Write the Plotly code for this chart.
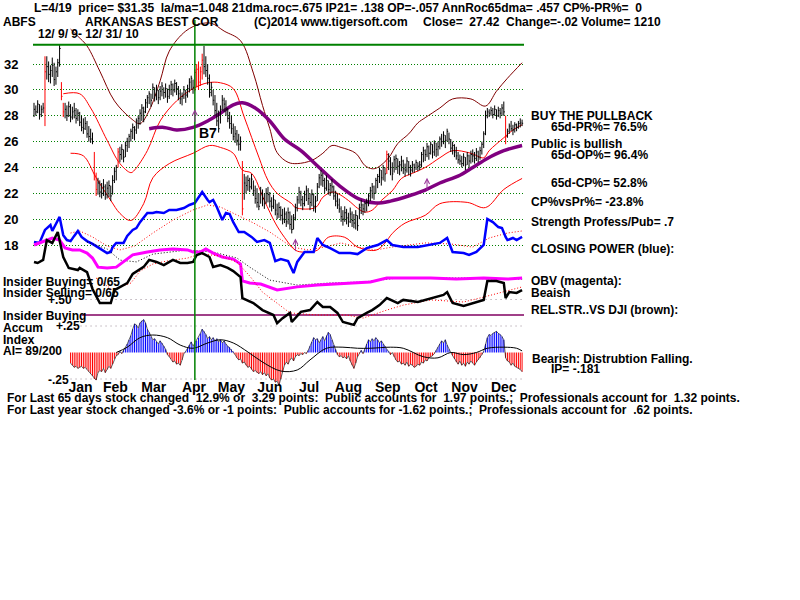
import plotly.graph_objects as go

W, H = 800, 600

# ---------------------------------------------------------------- calendar
month_names = ["Jan", "Feb", "Mar", "Apr", "May", "Jun",
               "Jul", "Aug", "Sep", "Oct", "Nov", "Dec"]
month_first_day = [16, 35, 54, 77, 98, 118, 140, 161, 183, 204, 225, 246]
n_days = 268                       # 12/9/2009 .. 12/31/2010

# ---------------------------------------------------------------- daily prices
high = [29.0, 28.8, 29.2, 28.9, 28.8, 29.0, 32.6, 32.6, 32.2, 31.9,
        32.5, 32.1, 31.8, 32.4, 33.5, 30.6, 29.0, 29.0, 28.8, 29.1,
        28.9, 28.7, 29.0, 28.6, 28.5, 28.3, 28.0, 27.8, 27.9, 27.6,
        27.2, 27.0, 26.7, 25.2, 23.6, 23.2, 23.0, 22.8, 23.1, 22.7,
        22.9, 23.0, 22.6, 23.4, 24.0, 24.2, 25.5, 25.6, 25.8, 25.4,
        26.0, 26.3, 26.6, 27.0, 27.4, 27.2, 27.8, 28.0, 28.5, 28.9,
        28.7, 29.3, 29.6, 29.9, 29.7, 30.5, 30.2, 30.4, 30.0, 30.3,
        30.6, 30.2, 30.5, 30.1, 30.4, 30.7, 30.5, 30.8, 30.6, 30.3,
        30.0, 29.8, 30.3, 30.0, 30.4, 30.9, 31.1, 30.8, 31.6, 32.0,
        32.2, 31.8, 32.8, 33.4, 32.6, 32.0, 31.2, 30.6, 30.0, 29.6,
        29.0, 28.4, 28.8, 29.6, 29.4, 29.2, 28.6, 28.3, 28.0, 27.4,
        27.2, 26.9, 26.6, 26.4, 24.5, 23.5, 23.3, 23.4, 23.2, 23.5,
        23.0, 22.6, 22.4, 22.0, 22.5, 22.3, 22.0, 22.4, 22.5, 22.1,
        21.7, 21.9, 21.5, 21.2, 21.3, 21.0, 20.8, 20.9, 20.6, 20.9,
        20.6, 20.3, 20.4, 21.2, 21.8, 22.5, 22.2, 21.8, 22.2, 22.6,
        22.4, 22.0, 22.3, 22.0, 21.8, 22.8, 23.5, 23.8, 23.6, 23.2,
        23.4, 23.0, 22.8, 23.1, 22.6, 22.2, 22.0, 21.6, 21.0, 20.7,
        21.0, 20.8, 20.5, 20.9, 20.6, 20.4, 20.7, 20.3, 21.2, 21.5,
        21.2, 21.4, 21.6, 22.0, 22.5, 22.8, 22.6, 23.2, 23.5, 24.0,
        23.8, 24.2, 24.0, 25.3, 25.1, 24.8, 24.4, 24.9, 25.0, 24.7,
        24.5, 24.9, 24.6, 24.3, 24.8, 24.5, 24.2, 24.5, 24.3, 24.6,
        24.4, 24.5, 25.2, 25.6, 25.4, 25.9, 25.7, 26.0, 25.8, 26.1,
        25.9, 26.0, 26.4, 26.6, 26.8, 26.5, 27.0, 26.7, 26.2, 26.0,
        25.8, 25.6, 25.2, 25.0, 24.9, 25.1, 24.8, 25.2, 25.0, 25.3,
        25.4, 25.2, 25.5, 25.3, 25.6, 26.0, 26.8, 28.4, 28.6, 28.5,
        28.7, 28.6, 28.8, 28.5, 28.7, 28.6, 28.9, 29.1, 28.0, 27.0,
        27.4, 27.6, 27.3, 27.5, 27.4, 27.6, 27.8, 27.7]
low = [27.9, 28.0, 28.2, 27.7, 27.9, 28.2, 27.2, 30.8, 30.6, 30.5,
       31.0, 30.3, 30.4, 31.0, 31.8, 29.2, 27.9, 27.8, 27.6, 27.9,
       27.5, 27.7, 27.8, 27.4, 27.6, 27.2, 26.8, 26.6, 26.9, 26.3,
       26.0, 25.9, 25.8, 23.0, 21.8, 21.9, 21.7, 21.6, 21.8, 21.5,
       21.6, 21.7, 21.4, 21.9, 22.8, 23.0, 24.0, 24.4, 24.6, 24.4,
       24.8, 25.2, 25.5, 26.0, 26.2, 26.1, 26.6, 27.0, 27.3, 27.6,
       27.5, 28.2, 28.6, 28.9, 28.7, 29.3, 29.1, 29.2, 28.9, 29.2,
       29.5, 29.3, 29.4, 29.0, 29.3, 29.6, 29.5, 29.8, 29.6, 29.2,
       28.9, 28.8, 29.3, 29.0, 29.4, 29.8, 30.0, 29.7, 29.9, 30.2,
       30.0, 30.3, 30.8, 31.2, 31.0, 30.4, 29.4, 29.5, 28.8, 28.0,
       27.2, 26.7, 27.4, 28.4, 28.3, 28.0, 27.5, 27.0, 26.6, 26.1,
       25.9, 25.7, 25.3, 25.3, 20.3, 21.5, 22.0, 22.2, 22.1, 22.3,
       21.8, 21.2, 20.9, 20.7, 21.2, 21.0, 20.8, 21.2, 21.3, 20.9,
       20.6, 20.8, 20.3, 20.0, 20.1, 19.9, 19.6, 19.7, 19.4, 19.6,
       19.2, 18.9, 19.2, 19.9, 20.6, 21.2, 21.0, 20.7, 21.0, 21.4,
       21.1, 20.7, 21.0, 20.6, 20.5, 21.4, 22.4, 22.6, 22.5, 22.0,
       22.2, 21.9, 21.8, 22.0, 21.5, 21.0, 20.8, 20.5, 19.8, 19.5,
       19.8, 19.6, 19.4, 19.7, 19.4, 19.3, 19.2, 19.1, 20.0, 20.4,
       20.3, 20.5, 20.6, 21.0, 21.4, 21.6, 21.5, 22.0, 22.4, 22.8,
       22.6, 23.0, 22.9, 23.5, 23.8, 23.4, 23.0, 23.6, 23.8, 23.5,
       23.4, 23.7, 23.5, 23.3, 23.6, 23.4, 23.3, 23.6, 23.6, 23.8,
       23.7, 23.8, 24.0, 24.4, 24.5, 24.8, 24.6, 25.0, 24.7, 24.9,
       24.8, 24.9, 25.4, 25.6, 25.8, 25.5, 26.0, 25.8, 25.2, 25.0,
       24.8, 24.6, 24.3, 24.2, 24.0, 24.1, 23.8, 24.2, 24.0, 24.3,
       24.4, 24.3, 24.5, 24.4, 24.6, 25.0, 25.5, 26.5, 27.8, 27.9,
       28.0, 27.8, 28.0, 27.7, 27.9, 27.8, 28.0, 28.0, 25.8, 26.3,
       26.6, 26.8, 26.5, 26.7, 26.8, 27.0, 27.1, 27.2]
close = [28.5, 28.3, 28.9, 28.1, 28.5, 28.6, 31.4, 31.8, 31.2, 31.5,
         31.9, 30.8, 31.4, 32.1, 33.2, 29.5, 28.3, 28.5, 28.0, 28.7,
         27.9, 28.3, 28.4, 27.8, 28.2, 27.5, 27.1, 27.0, 27.4, 26.6,
         26.4, 26.2, 26.0, 23.4, 22.3, 22.8, 22.1, 22.0, 22.5, 21.9,
         22.4, 22.6, 21.8, 23.0, 23.7, 24.0, 25.2, 25.0, 25.4, 24.8,
         25.7, 26.0, 26.4, 26.8, 27.1, 26.9, 27.6, 27.8, 28.2, 28.6,
         28.3, 29.0, 29.4, 29.7, 29.2, 30.2, 29.6, 30.0, 29.4, 29.9,
         30.3, 29.8, 30.1, 29.5, 30.0, 30.4, 30.0, 30.5, 30.1, 29.7,
         29.3, 29.5, 30.0, 29.6, 30.1, 30.6, 30.9, 30.2, 31.35, 31.6,
         30.6, 31.4, 32.3, 31.8, 31.5, 30.9, 29.8, 30.2, 29.2, 28.4,
         27.6, 27.0, 28.5, 29.2, 28.9, 28.5, 27.8, 27.4, 27.0, 26.4,
         26.6, 26.1, 25.8, 26.0, 20.8, 22.8, 22.6, 23.0, 22.5, 23.1,
         22.2, 21.6, 21.3, 21.0, 22.0, 21.6, 21.2, 22.0, 21.9, 21.4,
         21.0, 21.5, 20.7, 20.4, 20.9, 20.3, 20.0, 20.4, 19.8, 20.5,
         19.6, 19.2, 20.1, 20.9, 21.5, 22.1, 21.5, 21.2, 21.9, 22.2,
         21.6, 21.3, 21.9, 21.0, 21.4, 22.5, 23.2, 23.4, 23.0, 22.4,
         23.0, 22.3, 22.6, 22.5, 21.8, 21.4, 21.1, 20.8, 20.2, 20.0,
         20.5, 20.1, 19.8, 20.4, 19.9, 19.7, 20.3, 19.5, 20.9, 21.1,
         20.8, 21.2, 21.3, 21.8, 22.2, 22.5, 22.0, 23.0, 23.3, 23.8,
         23.2, 24.0, 23.5, 25.0, 24.5, 24.0, 23.5, 24.6, 24.7, 24.1,
         24.2, 24.5, 23.9, 23.8, 24.5, 24.0, 23.8, 24.2, 24.0, 24.4,
         24.1, 24.2, 25.0, 25.3, 25.0, 25.6, 25.1, 25.8, 25.2, 25.9,
         25.4, 25.6, 26.2, 26.0, 26.5, 26.1, 26.8, 26.2, 25.5, 25.7,
         25.2, 24.9, 24.6, 24.5, 24.3, 24.8, 24.2, 24.9, 24.5, 25.0,
         24.9, 24.7, 25.2, 24.8, 25.3, 25.8, 26.6, 28.0, 28.3, 28.2,
         28.4, 28.1, 28.5, 28.0, 28.4, 28.2, 28.6, 28.3, 26.4, 26.8,
         27.2, 27.0, 26.9, 27.3, 27.1, 27.4, 27.44, 27.42]
red_days = [6, 15, 16, 33, 34, 46, 88, 89, 90, 91, 92, 114, 193, 258]

# ---------------------------------------------------------------- price overlays
outer_days = [20, 24, 29, 36, 44, 53, 58, 63, 69, 74, 83, 91, 97, 104, 113,
              120, 125, 129, 133, 139, 144, 152, 158, 163, 168, 176, 181, 185,
              188, 194, 199, 205, 210, 214, 222, 229, 239, 247, 253, 259, 267]
outer_vals = [34.7, 34.15, 33.4, 31.45, 29.15, 27.8, 27.4, 28.4, 30.7, 33.0,
              34.55, 35.1, 35.15, 34.55, 33.8, 31.3, 28.8, 27.0, 25.15, 24.4,
              24.3, 24.55, 25.1, 25.7, 25.55, 25.1, 24.15, 23.9, 24.0, 24.75,
              25.85, 26.6, 27.45, 27.85, 28.6, 29.3, 29.3, 28.75, 29.9, 30.9,
              32.1]
upper_days = [16, 25, 31, 40, 47, 53, 55, 62, 69, 78, 87, 95, 102, 109, 115,
              123, 128, 133, 141, 143, 154, 158, 163, 166, 172, 177, 181, 185,
              190, 196, 201, 207, 214, 222, 229, 239, 246, 249, 257, 262, 267]
upper_vals = [29.7, 29.7, 28.6, 26.1, 24.3, 23.6, 23.8, 25.3, 27.6, 29.15,
              30.1, 30.55, 30.55, 30.1, 27.9, 24.8, 23.0, 22.0, 21.2, 20.9,
              20.9, 21.7, 22.1, 22.0, 21.45, 20.85, 20.55, 20.7, 21.45, 22.2,
              23.15, 23.55, 24.0, 24.75, 25.3, 25.1, 24.75, 25.3, 26.3, 26.9,
              27.3]
lower_days = [20, 27, 34, 42, 47, 53, 60, 65, 74, 87, 96, 102, 109, 114, 119,
              126, 132, 137, 143, 148, 155, 161, 170, 177, 187, 192, 196, 203,
              214, 222, 237, 247, 257, 267]
lower_vals = [25.1, 24.9, 23.2, 21.45, 20.45, 19.9, 21.2, 23.2, 24.3, 25.1,
              25.7, 25.55, 25.1, 23.8, 23.55, 21.45, 19.7, 18.6, 17.6, 17.45,
              17.6, 18.6, 18.6, 17.85, 17.6, 18.15, 18.9, 19.7, 20.3, 21.2,
              21.3, 20.9, 22.3, 23.15]
ma65_days = [63, 71, 78, 87, 95, 102, 109, 114, 121, 129, 137, 146, 156, 167,
             178, 187, 195, 206, 214, 222, 233, 240, 248, 257, 267]
ma65_vals = [27.0, 27.1, 26.9, 27.1, 27.6, 28.2, 28.85, 29.0, 28.6, 27.6,
             26.2, 25.3, 24.0, 22.6, 21.55, 21.25, 21.4, 21.85, 22.25, 22.8,
             23.4, 24.0, 24.7, 25.3, 25.7]

signal_days = [88, 143, 215]
signal_levels = [28.5, 18.5, 23.2]
price_ticks = [18, 20, 22, 24, 26, 28, 30, 32]

# ---------------------------------------------------------------- closing power
cp_days = [0, 3, 6, 9, 10, 13, 14, 15, 16, 18, 20, 22, 24, 26, 29, 32, 36, 40,
           42, 43, 45, 49, 51, 54, 56, 58, 62, 65, 67, 71, 74, 78, 82, 85, 88,
           90, 92, 95, 96, 98, 100, 103, 105, 107, 109, 112, 115, 119, 122,
           126, 129, 132, 135, 139, 142, 144, 148, 153, 155, 158, 162, 167,
           173, 177, 182, 188, 193, 196, 202, 210, 217, 222, 226, 229, 235,
           238, 242, 246, 248, 251, 254, 256, 258, 259, 262, 264, 267]
cp_vals = [1.2, 0.8, 5.8, 7.7, 5.4, 9.6, 10.8, 7.3, 3.8, 1.9, 1.5, 3.5, 5.4,
           3.1, 1.5, 0.4, -1.5, -3.1, -2.7, -0.8, 0.8, 0.8, 3.5, 5.8, 6.5,
           8.8, 12.3, 12.3, 12.7, 12.3, 13.5, 13.5, 14.2, 15.4, 16.2, 18.5,
           20.4, 17.3, 16.5, 17.3, 14.6, 9.6, 12.3, 11.9, 8.8, 5.0, 5.0, 3.1,
           1.2, 1.9, 0.8, -6.2, -5.4, -6.2, -10.8, -6.5, -2.7, -2.7, 2.7, 0.0,
           -1.2, -3.1, -3.1, -3.5, -1.2, 0.0, 1.9, 0.0, -0.8, -0.8, 0.0, 0.8,
           2.7, -2.7, -3.1, -3.8, -2.7, 0.0, 10.0, 8.8, 6.9, 6.5, 3.1, 1.9,
           2.7, 1.9, 3.1]
cpma_days = [20, 25, 32, 40, 47, 55, 65, 76, 87, 95, 102, 111, 120, 129, 141,
             150, 159, 168, 177, 187, 196, 205, 214, 228, 240, 249, 259, 267]
cpma_vals = [4.6, 5.4, 3.1, -0.4, -1.9, -0.4, 4.6, 9.6, 13.5, 15.4, 14.6, 11.5,
             8.5, 5.0, -0.8, -1.9, -0.8, 0.8, -0.8, -1.9, -0.8, 0.0, 0.8, 0.4,
             -0.8, 2.7, 4.6, 5.4]

# ---------------------------------------------------------------- OBV
obv_days = [0, 7, 10, 14, 17, 21, 25, 29, 32, 35, 40, 45, 49, 54, 62, 69, 76,
            84, 87, 91, 94, 98, 103, 109, 113, 114, 118, 124, 133, 144, 155,
            166, 177, 184, 193, 202, 217, 231, 246, 259, 267]
obv_vals = [17.3, 19.2, 20.0, 19.2, 16.2, 15.4, 15.4, 14.2, 12.3, 8.8, 8.5,
            8.8, 10.8, 13.5, 14.6, 15.4, 15.8, 15.4, 14.6, 14.6, 15.8, 14.2,
            12.7, 11.9, 10.0, 3.5, 2.7, 2.3, 0.0, 1.2, 1.9, 2.3, 2.7, 3.1,
            4.6, 4.6, 4.6, 4.2, 4.6, 4.2, 4.6]
obvma_days = [29, 40, 47, 56, 65, 84, 98, 111, 118, 129, 144, 162, 180, 199,
              217, 235, 253, 267]
obvma_vals = [18.5, 15.8, 11.5, 10.8, 13.8, 15.4, 14.6, 12.3, 8.8, 3.8, 1.9,
              2.7, 3.1, 4.6, 4.6, 4.6, 4.2, 4.2]

# ---------------------------------------------------------------- relative strength
rs_days = [0, 2, 5, 7, 10, 13, 16, 19, 24, 25, 29, 32, 36, 40, 42, 44, 47, 51,
           54, 60, 63, 67, 71, 76, 80, 84, 87, 89, 92, 96, 98, 102, 106, 109,
           113, 114, 120, 125, 131, 133, 136, 140, 141, 146, 151, 155, 158,
           162, 166, 169, 175, 177, 182, 185, 189, 193, 199, 202, 210, 217,
           224, 226, 229, 235, 240, 246, 248, 253, 257, 258, 260, 264, 267]
rs_vals = [20.4, 20.0, 21.2, 28.8, 27.7, 31.9, 22.3, 18.1, 17.3, 18.1, 16.5,
           10.0, 4.6, 4.6, 4.6, 9.6, 10.8, 12.3, 15.8, 18.5, 21.2, 20.4, 19.2,
           21.2, 20.0, 20.0, 20.4, 23.1, 23.8, 22.3, 18.5, 19.2, 18.1, 16.9,
           14.6, 6.5, 4.6, 1.9, 0.0, -3.1, -1.2, 0.8, -2.7, 1.2, 1.9, 5.0, 3.1,
           3.1, 0.8, -2.7, -3.8, -1.2, 0.8, 1.9, 3.8, 6.5, 4.6, 5.8, 5.0, 6.5,
           7.7, 8.8, 4.6, 3.5, 4.6, 5.8, 13.1, 13.1, 12.3, 6.5, 8.8, 8.5, 9.6]
rsma_days = [34, 43, 53, 58, 65, 73, 84, 91, 102, 111, 118, 125, 140, 155, 171,
             180, 193, 202, 217, 235, 246, 255, 267]
rsma_vals = [14.2, 9.6, 12.3, 16.9, 19.6, 20.8, 21.9, 23.5, 22.7, 20.4, 15.0,
             8.8, 0.8, 0.0, 0.0, -1.2, 1.9, 3.8, 5.8, 5.0, 6.9, 8.5, 10.8]

# ---------------------------------------------------------------- accumulation index
ai_first_day = 20
ai_vals = [-0.10, -0.12, -0.14, -0.13, -0.15, -0.14, -0.13, -0.15, -0.14, -0.16,
           -0.18, -0.20, -0.22, -0.25, -0.26, -0.19, -0.17, -0.18, -0.15, -0.19,
           -0.16, -0.13, -0.15, -0.11, -0.06, -0.03, -0.02, 0.01, -0.01, 0.02,
           0.04, 0.08, 0.12, 0.16, 0.22, 0.27, 0.26, 0.23, 0.28, 0.30,
           0.31, 0.28, 0.22, 0.19, 0.15, 0.12, 0.13, 0.10, 0.08, 0.11,
           0.09, 0.06, 0.03, -0.02, -0.04, -0.06, -0.09, -0.08, -0.11, -0.10,
           -0.12, -0.07, -0.01, 0.01, 0.04, 0.07, 0.10, 0.06, 0.09, 0.11,
           0.14, 0.18, 0.22, 0.20, 0.17, 0.13, 0.15, 0.12, 0.14, 0.11,
           0.13, 0.10, 0.12, 0.09, 0.11, 0.08, 0.06, 0.05, 0.03, 0.01,
           -0.02, -0.05, -0.07, -0.06, -0.10, -0.09, -0.12, -0.14, -0.13, -0.16,
           -0.18, -0.17, -0.19, -0.20, -0.18, -0.21, -0.19, -0.22, -0.20, -0.24,
           -0.26, -0.25, -0.28, -0.27, -0.31, -0.25, -0.18, -0.12, -0.09, -0.11,
           -0.07, -0.05, -0.08, -0.04, -0.02, -0.03, -0.01, -0.02, 0.00, -0.01,
           0.02, 0.06, 0.10, 0.14, 0.12, 0.13, 0.09, 0.12, 0.15, 0.11,
           0.16, 0.19, 0.17, 0.12, 0.07, 0.03, -0.02, -0.04, -0.03, -0.05,
           -0.04, -0.06, -0.03, -0.08, -0.12, -0.15, -0.10, -0.04, -0.01, 0.02,
           -0.01, 0.03, 0.08, 0.12, 0.10, 0.13, 0.11, 0.14, 0.12, 0.09,
           0.11, 0.08, 0.06, 0.03, 0.01, -0.02, 0.00, -0.04, -0.07, -0.09,
           -0.08, -0.11, -0.10, -0.12, -0.09, -0.13, -0.11, -0.12, -0.14, -0.13,
           -0.11, -0.12, -0.09, -0.10, -0.07, -0.08, -0.05, -0.04, -0.03, -0.01,
           0.02, 0.05, 0.08, 0.11, 0.09, 0.12, 0.07, 0.03, 0.00, -0.03,
           -0.06, -0.09, -0.11, -0.08, -0.12, -0.10, -0.13, -0.09, -0.11, -0.08,
           -0.10, -0.12, -0.09, -0.07, -0.05, -0.02, 0.01, 0.08, 0.14, 0.17,
           0.16, 0.18, 0.19, 0.20, 0.18, 0.17, 0.15, 0.12, -0.05, -0.08,
           -0.09, -0.12, -0.10, -0.13, -0.14, -0.15, -0.16, -0.181]
aima_days = [45, 51, 58, 65, 73, 80, 87, 95, 102, 109, 117, 125, 135, 144, 151,
             160, 169, 177, 184, 195, 202, 213, 221, 228, 235, 242, 248, 257,
             264, 267]
aima_vals = [0.0, 0.05, 0.14, 0.165, 0.14, 0.07, 0.04, 0.09, 0.12, 0.09, 0.005,
             -0.09, -0.175, -0.165, -0.07, 0.04, 0.05, 0.04, 0.04, 0.05, 0.04,
             -0.04, -0.05, 0.0, -0.02, 0.0, 0.04, 0.05, 0.04, 0.015]
ai_levels = [0.50, 0.25, -0.25]

# ---------------------------------------------------------------- text blocks
NB = "\u00a0"
header_texts = [
    (f"L=4/19{NB} price= $31.35{NB} la/ma=1.048 21dma.roc=.675 IP21= .138 "
     f"OP=-.057 AnnRoc65dma= .457 CP%-PR%={NB} 0", 33, 8),
    ("ABFS", 2, 22),
    ("ARKANSAS BEST COR", 84, 22),
    ("(C)2014 www.tigersoft.com", 253, 22),
    (f"Close={NB} 27.42{NB} Change=-.02 Volume= 1210", 422, 22),
    ("12/ 9/ 9- 12/ 31/ 10", 37, 34),
]
side_texts = [
    ("BUY THE PULLBACK", 530, 116),
    ("65d-PR%= 76.5%", 550, 127),
    ("Public is bullish", 530, 144),
    ("65d-OP%= 96.4%", 550, 155),
    ("65d-CP%= 52.8%", 550, 183),
    ("CP%vsPr%= -23.8%", 530, 202),
    ("Strength Profess/Pub= .7", 530, 222),
    ("CLOSING POWER (blue):", 530, 249),
    ("OBV (magenta):", 530, 281),
    ("Beaish", 530, 293),
    ("REL.STR..VS DJI (brown):", 530, 310),
    ("Bearish: Distrubtion Falling.", 531, 359),
    ("IP= -.181", 550, 369),
]
left_texts = [
    ("Insider Buying= 0/65", 2, 282),
    ("Insider Selling= 0/65", 2, 293),
    ("+.50", 47, 300),
    ("Insider Buying", 2, 316),
    ("Accum", 2, 328),
    ("+.25", 55, 326),
    ("Index", 2, 340),
    ("AI= 89/200", 2, 351),
    ("-.25", 47, 380),
]
footer_texts = [
    (f"For Last 65 days stock changed {NB}12.9% or {NB}3.29 points:{NB} Public "
     f"accounts for {NB}1.97 points.;{NB} Professionals account for {NB}1.32 points.",
     6, 398),
    (f"For Last year stock changed -3.6% or -1 points:{NB} Public accounts for "
     f"-1.62 points.;{NB} Professionals account for {NB}.62 points.", 6, 410),
]

# ---------------------------------------------------------------- geometry
FONT = "Liberation Sans, Arial, sans-serif"
X_LEFT, X_RIGHT = 33, 524          # plot area edges (px)
PX_PER_DAY = 1.828
FIRST_BAR_PX = 34


def y_range(zero_px, px_per_unit):
    """Axis range so that value 0 sits at zero_px from the top."""
    return [(zero_px - H) / px_per_unit, zero_px / px_per_unit]


x_range = [(X_LEFT - FIRST_BAR_PX) / PX_PER_DAY,
           (X_RIGHT - FIRST_BAR_PX) / PX_PER_DAY]

fig = go.Figure()


def add_line(xv, yv, color, width, axis="y", dash="solid", shape="linear"):
    fig.add_trace(go.Scatter(x=xv, y=yv, mode="lines", yaxis=axis,
                             line=dict(color=color, width=width, dash=dash,
                                       shape=shape, smoothing=1.0),
                             hoverinfo="skip"))


# price bands and 65-dma
add_line(outer_days, outer_vals, "#800000", 1, shape="spline")
add_line(upper_days, upper_vals, "#FF0000", 1, shape="spline")
add_line(lower_days, lower_vals, "#FF0000", 1, shape="spline")
add_line(ma65_days, ma65_vals, "#800080", 3.5, shape="spline")


def bar_path(days):
    xs, ys = [], []
    for d in days:
        xs += [d, d, None, d, d + 0.6, None]
        ys += [low[d], high[d], None, close[d], close[d], None]
    return xs, ys


black_days = [d for d in range(n_days) if d not in red_days]
bx, by = bar_path(black_days)
add_line(bx, by, "#000000", 1)
rx, ry = bar_path(red_days)
add_line(rx, ry, "#FF0000", 1)

# closing power
add_line(cpma_days, cpma_vals, "#FF0000", 1, axis="y2", dash="1px,2px")
add_line(cp_days, cp_vals, "#0000FF", 2.5, axis="y2")

# on-balance volume
add_line(obvma_days, obvma_vals, "#000000", 1, axis="y3", dash="1px,2px")
add_line(obv_days, obv_vals, "#FF00FF", 3, axis="y3")

# relative strength
add_line(rsma_days, rsma_vals, "#FF0000", 1, axis="y4", dash="1px,2px")
add_line(rs_days, rs_vals, "#000000", 2.5, axis="y4")

# accumulation index histogram: thin one-pixel stripes per day
ai_days = list(range(ai_first_day, ai_first_day + len(ai_vals)))
for sign, color in ((1, "#0000FF"), (-1, "#FF0000")):
    sx, sy = [], []
    for d, v in zip(ai_days, ai_vals):
        if v * sign > 0:
            sx += [d, d, None]
            sy += [0, v, None]
    add_line(sx, sy, color, 1, axis="y5")
add_line(ai_days, ai_vals, "#202020", 0.7, axis="y5")
add_line(aima_days, aima_vals, "#000000", 1, axis="y5", shape="spline")

# ---------------------------------------------------------------- shapes
shapes = [
    dict(type="line", xref="x domain", x0=0, x1=1, yref="y",
         y0=max(high), y1=max(high), line=dict(color="#008000", width=2)),
    dict(type="line", xref="x", x0=signal_days[0], x1=signal_days[0],
         yref="paper", y0=1 - 380 / H, y1=1 - 20 / H,
         line=dict(color="#008000", width=1.5)),
    dict(type="line", xref="x", x0=26, x1=x_range[1], yref="y4", y0=0, y1=0,
         line=dict(color="#800060", width=1.5), layer="below"),
]
for lv in ai_levels:
    shapes.append(dict(type="line", xref="x", x0=ai_first_day, x1=x_range[1],
                       yref="y5", y0=lv, y1=lv, layer="below",
                       line=dict(color="#9a8a96", width=1, dash="1px,4px")))

# ---------------------------------------------------------------- annotations
annotations = []


def add_text(text, x_px, y_px, size=12):
    annotations.append(dict(text=text, x=x_px / W, y=1 - y_px / H,
                            xref="paper", yref="paper", xanchor="left",
                            yanchor="middle", showarrow=False, borderpad=0,
                            font=dict(family=FONT, size=size, color="#000000",
                                      weight="bold")))


for t, xp, yp in header_texts + side_texts + left_texts + footer_texts:
    add_text(t, xp, yp)

for d, lv in zip(signal_days, signal_levels):
    annotations.append(dict(x=d, y=lv, xref="x", yref="y", text="",
                            showarrow=True, arrowhead=5, arrowsize=1,
                            arrowwidth=1, arrowcolor="#993399", ax=0, ay=14))
annotations.append(dict(x=signal_days[0], y=signal_levels[0], xref="x",
                        yref="y", text="B7", showarrow=False, xshift=13,
                        yshift=-24,
                        font=dict(family=FONT, size=14, color="#000000",
                                  weight="bold")))

# ---------------------------------------------------------------- layout
month_mid = [(a + b) / 2 for a, b in
             zip(month_first_day, month_first_day[1:] + [n_days])]

hidden = dict(overlaying="y", visible=False, anchor="x")
fig.update_layout(
    width=W, height=H,
    margin=dict(l=0, r=0, t=0, b=0),
    paper_bgcolor="white", plot_bgcolor="white",
    showlegend=False,
    xaxis=dict(domain=[X_LEFT / W, X_RIGHT / W], range=x_range,
               anchor="free", position=1 - 377 / H,
               tickmode="array", tickvals=month_mid, ticktext=month_names,
               ticks="", showgrid=False, zeroline=False, showline=False,
               tickfont=dict(family=FONT, size=14, color="#000000",
                             weight="bold")),
    yaxis=dict(domain=[0, 1], range=y_range(477.8, 12.93),
               tickmode="array", tickvals=price_ticks,
               ticks="outside", ticklen=11, tickcolor="white",
               showgrid=True, gridcolor="#008000", griddash="1px,2px",
               gridwidth=1, zeroline=False, showline=False,
               tickfont=dict(family=FONT, size=13, color="#000000",
                             weight="bold")),
    yaxis2=dict(range=y_range(245, 2.6), **hidden),
    yaxis3=dict(range=y_range(290, 2.6), **hidden),
    yaxis4=dict(range=y_range(315, 2.6), **hidden),
    yaxis5=dict(range=y_range(352.5, 106), **hidden),
    shapes=shapes,
    annotations=annotations,
)

fig.write_html("out.html")
